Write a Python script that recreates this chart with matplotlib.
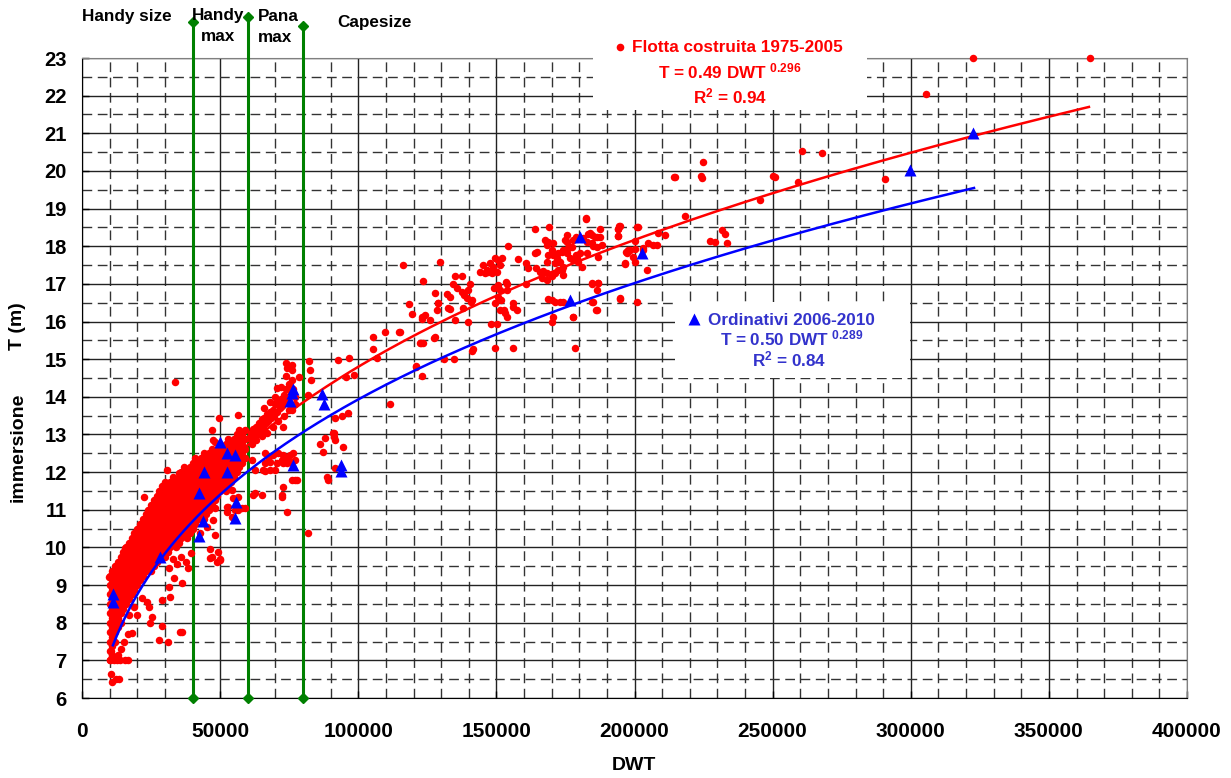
import matplotlib.pyplot as plt
import numpy as np
from matplotlib.patches import Rectangle

plt.rcParams["font.family"] = ["Liberation Sans", "DejaVu Sans"]
plt.rcParams["font.weight"] = "bold"
plt.rcParams["mathtext.fontset"] = "custom"
plt.rcParams["mathtext.rm"] = "Liberation Sans:bold"
plt.rcParams["mathtext.it"] = "Liberation Sans:bold"
plt.rcParams["mathtext.bf"] = "Liberation Sans:bold"

# ---- fleet built 1975-2005 (DWT in thousands, draught T in m) ----
# dense core of the small bulkers: one entry per DWT column
core_columns = [
    (10.0, [7.0, 7.25, 7.5, 7.75, 8.0, 8.25, 8.5, 8.75, 9.0, 9.25]),
    (11.0, [7.125, 7.375, 7.625, 7.875, 8.125, 8.375, 8.625, 8.875, 9.125, 9.375]),
    (12.0, [7.5, 7.75, 8.0, 8.25, 8.5, 8.75, 9.0, 9.25, 9.5]),
    (13.0, [7.875, 8.125, 8.375, 8.625, 8.875, 9.125, 9.375, 9.625]),
    (14.0, [8.0, 8.25, 8.5, 8.75, 9.0, 9.25, 9.5, 9.75]),
    (15.0, [8.375, 8.625, 8.875, 9.125, 9.375, 9.625, 9.875]),
    (16.0, [8.5, 8.75, 9.0, 9.25, 9.5, 9.75, 10.0]),
    (17.0, [8.625, 8.875, 9.125, 9.375, 9.625, 9.875, 10.125]),
    (18.0, [8.75, 9.0, 9.25, 9.5, 9.75, 10.0, 10.25]),
    (19.0, [8.875, 9.125, 9.375, 9.625, 9.875, 10.125, 10.375]),
    (20.0, [9.0, 9.25, 9.5, 9.75, 10.0, 10.25, 10.5]),
    (21.0, [9.125, 9.375, 9.625, 9.875, 10.125, 10.375, 10.625]),
    (22.0, [9.25, 9.5, 9.75, 10.0, 10.25, 10.5, 10.75]),
    (23.0, [9.375, 9.625, 9.875, 10.125, 10.375, 10.625, 10.875]),
    (24.0, [9.5, 9.75, 10.0, 10.25, 10.5, 10.75, 11.0]),
    (25.0, [9.375, 9.625, 9.875, 10.125, 10.375, 10.625, 10.875, 11.125]),
    (26.0, [9.5, 9.75, 10.0, 10.25, 10.5, 10.75, 11.0, 11.25]),
    (27.0, [9.625, 9.875, 10.125, 10.375, 10.625, 10.875, 11.125, 11.375]),
    (28.0, [9.75, 10.0, 10.25, 10.5, 10.75, 11.0, 11.25, 11.5]),
    (29.0, [9.875, 10.125, 10.375, 10.625, 10.875, 11.125, 11.375, 11.625]),
    (30.0, [9.75, 10.0, 10.25, 10.5, 10.75, 11.0, 11.25, 11.5, 11.75]),
    (31.0, [9.875, 10.125, 10.375, 10.625, 10.875, 11.125, 11.375, 11.625]),
    (32.0, [10.0, 10.25, 10.5, 10.75, 11.0, 11.25, 11.5, 11.75]),
    (33.0, [10.125, 10.375, 10.625, 10.875, 11.125, 11.375, 11.625, 11.875]),
    (34.0, [10.0, 10.25, 10.5, 10.75, 11.0, 11.25, 11.5, 11.75]),
    (35.0, [10.125, 10.375, 10.625, 10.875, 11.125, 11.375, 11.625, 11.875]),
    (36.0, [10.25, 10.5, 10.75, 11.0, 11.25, 11.5, 11.75, 12.0]),
    (37.0, [10.375, 10.625, 10.875, 11.125, 11.375, 11.625, 11.875, 12.125]),
    (38.0, [10.25, 10.5, 10.75, 11.0, 11.25, 11.5, 11.75, 12.0]),
    (39.0, [10.375, 10.625, 10.875, 11.125, 11.375, 11.625, 11.875, 12.125]),
    (40.0, [10.5, 10.75, 11.0, 11.25, 11.5, 11.75, 12.0, 12.25]),
    (41.0, [10.625, 10.875, 11.125, 11.375, 11.625, 11.875, 12.125, 12.375]),
    (42.0, [10.75, 11.0, 11.25, 11.5, 11.75, 12.0, 12.25]),
    (43.0, [10.875, 11.125, 11.375, 11.625, 11.875, 12.125, 12.375]),
    (44.0, [10.75, 11.0, 11.25, 11.5, 11.75, 12.0, 12.25, 12.5]),
    (45.0, [10.875, 11.125, 11.375, 11.625, 11.875, 12.125, 12.375]),
    (46.0, [11.0, 11.25, 11.5, 11.75, 12.0, 12.25, 12.5]),
    (47.0, [11.125, 11.375, 11.625, 11.875, 12.125, 12.375, 12.625]),
    (48.0, [11.25, 11.5, 11.75, 12.0, 12.25, 12.5]),
    (49.0, [11.375, 11.625, 11.875, 12.125, 12.375, 12.625]),
    (50.0, [11.5, 11.75, 12.0, 12.25, 12.5]),
    (51.0, [11.625, 11.875, 12.125, 12.375, 12.625]),
    (52.0, [11.5, 11.75, 12.0, 12.25, 12.5, 12.75]),
    (53.0, [11.625, 11.875, 12.125, 12.375, 12.625, 12.875]),
    (54.0, [11.75, 12.0, 12.25, 12.5, 12.75]),
    (55.0, [11.875, 12.125, 12.375, 12.625, 12.875]),
    (56.0, [12.0, 12.25, 12.5, 12.75, 13.0]),
    (57.0, [12.125, 12.375, 12.625, 12.875, 13.125]),
    (58.0, [12.25, 12.5, 12.75, 13.0]),
    (59.0, [12.375, 12.625, 12.875, 13.125]),
]

handy_scatter = [
    (10.5, 6.65), (10.9, 6.43), (12.3, 6.5), (13.5, 6.5), (10.3, 7.0), (11.5, 7.0), (12.5, 7.0),
    (13.8, 7.0), (15.5, 7.0), (16.5, 7.0), (10.5, 7.25), (11.0, 7.15),
    (15.1, 7.5), (18.1, 7.73), (24.7, 7.98), (25.3, 8.16), (24.1, 8.43), (23.5, 8.56), (21.7, 8.65),
    (18.7, 8.43), (19.9, 8.2), (27.8, 7.54), (29.0, 7.9), (31.1, 7.5), (35.4, 7.76), (36.2, 7.76),
    (32.0, 8.67), (29.0, 8.6), (31.4, 8.96), (33.2, 9.18), (36.2, 9.05), (31.4, 9.44), (35.9, 9.75),
    (37.5, 9.6), (38.5, 9.45), (34.5, 9.55), (33.0, 9.7), (39.5, 9.85), (14.0, 7.3), (16.5, 7.7),
    (17.0, 8.2), (13.0, 7.15), (9.9, 9.22), (15.7, 9.98), (18.1, 10.15), (22.3, 11.35), (29.6, 11.66),
    (30.8, 12.06), (35.0, 11.97), (33.7, 14.4),
]

handymax_scatter = [
    (46.3, 9.97), (49.9, 9.66), (48.7, 9.62), (49.3, 9.89), (42.7, 10.37), (45.1, 10.55), (48.1, 10.33),
    (46.9, 9.75), (47.5, 10.73), (46.3, 11.35), (54.2, 11.53), (54.8, 11.3), (55.4, 10.99), (52.4, 10.95),
    (54.2, 10.82), (53.0, 11.08), (56.6, 10.99), (57.8, 11.04), (56.6, 11.35), (59.1, 11.04), (52.5, 11.08),
    (48.1, 11.04), (46.3, 11.08), (46.5, 9.71), (50.1, 9.7), (47.0, 13.12), (47.5, 12.85), (49.5, 13.45),
    (56.6, 13.52), (48.1, 12.81),
]

panamax_fleet = [
    (60.5, 12.9), (61.0, 13.05), (61.5, 12.75), (62.0, 13.15), (62.5, 12.95), (63.0, 13.2), (63.5, 13.0),
    (64.0, 13.3), (64.5, 13.1), (65.0, 13.4), (65.5, 13.2), (66.0, 13.45), (66.5, 13.3), (67.0, 13.55),
    (67.5, 13.35), (68.0, 13.6), (68.5, 13.45), (69.0, 13.65), (69.5, 13.5), (70.0, 13.8), (70.5, 13.6),
    (71.0, 13.85), (71.5, 13.7), (72.0, 13.95), (72.5, 13.75), (73.0, 14.05), (73.5, 13.85), (74.0, 14.2),
    (74.5, 13.95), (75.0, 14.35), (75.5, 14.1), (76.0, 14.45), (76.5, 14.2), (77.0, 14.0), (63.0, 12.85),
    (65.0, 12.95), (67.0, 13.05), (69.0, 13.2), (71.0, 13.35), (73.0, 13.5), (75.0, 13.65), (77.0, 13.8),
    (66.0, 13.7), (68.0, 13.85), (70.0, 14.0), (72.0, 14.25), (74.0, 14.55), (76.0, 14.7), (73.8, 14.9),
    (76.0, 14.85), (70.5, 14.23), (78.5, 14.52), (74.1, 14.76), (72.9, 13.2), (75.9, 13.65), (64.4, 13.3),
    # shallow-draught group
    (66.2, 12.5), (67.4, 12.41), (69.2, 12.45), (71.1, 12.5), (72.9, 12.45), (74.1, 12.41), (75.3, 12.45),
    (76.5, 12.5), (77.1, 12.32), (70.5, 12.23), (72.9, 12.23), (74.1, 12.23), (66.2, 12.23), (68.0, 12.28),
    (72.3, 12.32), (75.3, 12.28), (61.4, 12.32), (62.6, 12.06), (65.6, 12.06), (68.1, 12.06), (66.2, 12.02),
    (69.8, 12.06), (75.9, 11.8), (77.1, 11.78), (77.7, 11.8), (62.6, 11.44), (65.0, 11.39), (72.3, 11.35),
    (72.6, 11.61), (74.1, 10.95), (81.9, 10.37), (72.3, 11.39), (62.0, 11.39),
]

cape_fleet = [
    (82.3, 14.96), (82.5, 14.71), (82.9, 14.45), (81.9, 14.05), (86.2, 12.76), (88.0, 12.9), (91.0, 13.03),
    (91.6, 12.85), (87.4, 12.54), (94.6, 12.68), (88.6, 11.88), (89.2, 11.8), (91.6, 12.1), (91.2, 13.03),
    (91.3, 12.92), (91.6, 13.43), (94.0, 13.49), (96.4, 13.56), (95.6, 14.53), (98.5, 14.58), (92.8, 14.98),
    (96.6, 15.02), (105.2, 15.58), (105.5, 15.28), (106.7, 15.02), (109.7, 15.73), (111.5, 13.81),
    (114.9, 15.71), (115.1, 15.71), (116.1, 17.5), (118.5, 16.46), (119.3, 16.2), (120.8, 14.8),
    (120.9, 14.82), (122.4, 15.42), (122.6, 15.42), (122.9, 16.11), (122.9, 14.54), (123.0, 16.08),
    (123.3, 17.08), (123.6, 15.44), (124.2, 16.17), (126.0, 16.04), (127.5, 15.55), (127.8, 16.75),
    (127.8, 15.58), (128.4, 16.31), (128.8, 16.5), (129.0, 16.48), (129.6, 17.59), (131.2, 15.01),
    (132.0, 16.73), (132.6, 16.35), (133.2, 16.66), (133.2, 16.32), (134.4, 17.0), (134.8, 15.0),
    (135.0, 17.21), (135.0, 16.04), (135.9, 16.88), (137.4, 17.21), (137.4, 16.79), (138.0, 16.35),
    (138.3, 16.7), (139.2, 16.62), (139.8, 16.84), (139.8, 15.99), (140.4, 17.01), (140.8, 16.53),
    (141.0, 16.57), (141.0, 15.23), (141.4, 15.26), (144.1, 17.32), (145.3, 17.5), (146.5, 17.37),
    (147.7, 17.55), (148.9, 17.46), (149.5, 17.68), (150.7, 17.63), (151.3, 17.5), (151.9, 17.68),
    (148.3, 17.28), (147.1, 17.32), (150.1, 17.32), (145.9, 17.28), (149.1, 16.88), (150.7, 16.97),
    (151.3, 16.84), (153.7, 17.01), (153.7, 16.84), (153.5, 17.06), (150.7, 16.66), (151.5, 16.57),
    (149.5, 16.48), (151.3, 16.31), (153.1, 16.22), (153.7, 16.13), (152.8, 16.31), (147.9, 15.93),
    (150.1, 15.93), (156.1, 16.48), (157.6, 16.31), (156.1, 16.39), (160.7, 17.01), (155.9, 15.29),
    (149.5, 15.29), (154.1, 18.01), (157.9, 17.65), (160.9, 17.55), (161.6, 17.41), (164.3, 17.41),
    (164.0, 18.47), (164.0, 17.81), (164.8, 17.85), (168.2, 17.59), (168.8, 17.77), (165.8, 17.32),
    (167.0, 17.35), (168.2, 17.1), (170.0, 17.21), (169.2, 18.52), (167.6, 18.16), (168.8, 18.12),
    (168.2, 18.03), (170.6, 18.08), (170.0, 17.9), (170.6, 17.77), (172.4, 17.81), (171.8, 17.68),
    (173.0, 17.59), (171.2, 17.55), (174.2, 17.9), (175.5, 18.12), (176.1, 17.94), (177.3, 17.99),
    (176.7, 17.68), (177.9, 17.63), (179.1, 17.68), (173.6, 17.37), (174.2, 17.24), (172.4, 17.37),
    (171.2, 17.28), (168.2, 17.28), (166.4, 17.15), (168.8, 16.59), (170.0, 16.57), (171.2, 16.53),
    (173.0, 16.53), (174.2, 16.53), (170.6, 16.13), (170.0, 16.0), (177.9, 16.11), (178.5, 15.31),
    (182.4, 18.74), (183.9, 18.34), (182.7, 18.12), (184.5, 18.08), (185.7, 18.25), (187.5, 18.47),
    (187.5, 18.25), (188.1, 18.03), (186.3, 17.99), (182.7, 17.81), (180.3, 17.81), (179.7, 17.59),
    (180.9, 17.46), (186.9, 17.72), (184.5, 17.03), (186.9, 17.03), (186.3, 16.85), (184.5, 16.53),
    (186.3, 16.31), (194.8, 18.54), (194.2, 18.45), (194.2, 18.27), (198.4, 17.9), (197.2, 17.81),
    (196.6, 17.55), (200.8, 16.53), (194.8, 16.62), (201.2, 18.52), (205.0, 18.09), (203.2, 17.9),
    (199.6, 17.72), (204.4, 17.37), (182.4, 18.72), (175.4, 18.3), (174.8, 18.17), (173.6, 17.86),
    (174.2, 17.46), (176.6, 17.99), (177.8, 18.17), (179.0, 18.25), (181.4, 18.21), (183.3, 18.32),
    (184.5, 18.3), (186.3, 18.25), (185.1, 18.0), (178.4, 17.63), (179.0, 17.77), (175.4, 17.81),
    (194.1, 18.47), (194.5, 18.54), (194.1, 18.27), (201.0, 18.5), (200.2, 18.15), (197.1, 17.85),
    (197.7, 17.9), (200.2, 17.92), (203.2, 17.94), (206.8, 18.03), (208.0, 18.03), (208.6, 18.34),
    (211.0, 18.3), (196.5, 17.53), (200.2, 17.57), (184.5, 17.01), (186.9, 17.03), (184.8, 16.51),
    (186.0, 16.3), (194.7, 16.6), (177.8, 16.11), (214.6, 19.85), (214.3, 19.83), (223.9, 19.86),
    (224.5, 19.8), (224.9, 20.23), (218.3, 18.8), (227.3, 18.15), (229.1, 18.12), (231.5, 18.43),
    (232.7, 18.32), (233.4, 18.09), (250.2, 19.86), (250.9, 19.85), (245.4, 19.23), (259.3, 19.71),
    (260.5, 20.54), (267.7, 20.47), (290.7, 19.78), (305.5, 22.04), (322.5, 23.0), (364.9, 23.0),
]

# ---- orders 2006-2010 ----
orders = [
    (11.2, 8.76), (11.2, 8.55), (28.2, 9.75), (42.5, 10.3), (43.9, 10.7), (55.4, 10.78), (55.7, 11.2),
    (42.5, 11.45), (44.3, 12.0), (52.4, 12.0), (52.6, 12.52), (55.4, 12.45), (50.0, 12.8), (76.3, 12.2),
    (93.8, 12.19), (93.8, 12.02), (75.3, 13.9), (75.9, 14.1), (76.5, 14.2), (86.8, 14.08), (87.6, 13.82),
    (180.3, 18.24), (176.6, 16.57), (202.7, 17.82), (299.7, 20.02), (322.5, 21.0),
]

# trend lines T = a * DWT ** b, drawn between the given DWT limits (thousands)
fleet_fit = (0.49, 0.296, 10.0, 364.5)
orders_fit = (0.50, 0.289, 11.2, 322.9)

# vessel size class limits (DWT)
class_limits = [40000, 60000, 80000]
class_tops = [23.95, 24.08, 23.86]

core = [(x, t) for x, ts in core_columns for t in ts]
fleet = np.array(core + handy_scatter + handymax_scatter + panamax_fleet + cape_fleet)
fleet_dwt = fleet[:, 0] * 1000
fleet_t = fleet[:, 1]
orders = np.array(orders)
orders_dwt = orders[:, 0] * 1000
orders_t = orders[:, 1]

fig = plt.figure(figsize=(12.31, 7.78), dpi=100)
ax = fig.add_axes([82 / 1231, 80 / 778, 1105 / 1231, 640 / 778])

ax.set_xlim(0, 400000)
ax.set_ylim(6, 23)
ax.set_xticks(np.arange(0, 400001, 50000))
ax.set_xticks(np.arange(0, 400001, 10000), minor=True)
ax.set_yticks(np.arange(6, 24, 1))
ax.set_yticks(np.arange(6.5, 23, 1), minor=True)
ax.grid(which="major", color="#222222", lw=1.0, ls="-", zorder=0)
ax.grid(which="minor", color="#333333", lw=1.0, ls=(0, (7, 4)), zorder=0)
ax.set_axisbelow(True)
ax.tick_params(which="major", direction="in", length=5, width=1)
ax.tick_params(which="minor", length=0)
ax.tick_params(axis="x", labelsize=15, pad=17)
ax.tick_params(axis="y", labelsize=14.5, pad=11)
for lab in ax.get_xticklabels() + ax.get_yticklabels():
    lab.set_fontweight("bold")
for side in ["left", "bottom"]:
    ax.spines[side].set_color("#000000")
for side in ["top", "right"]:
    ax.spines[side].set_color("#808080")

# size class separators
for x, top in zip(class_limits, class_tops):
    ax.plot([x, x], [6, top], color="#008000", lw=2.2, marker="D", ms=5,
            clip_on=False, zorder=3)

ax.plot(fleet_dwt, fleet_t, "o", color="#FF0000", ms=5.4, mec="none", clip_on=False, zorder=4)

a, b, x0, x1 = fleet_fit
xs = np.linspace(x0 * 1000, x1 * 1000, 400)
ax.plot(xs, a * xs ** b, color="#FF0000", lw=1.8, zorder=5)
a, b, x0, x1 = orders_fit
xs = np.linspace(x0 * 1000, x1 * 1000, 400)
ax.plot(xs, a * xs ** b, color="#0000FF", lw=1.8, zorder=5)

ax.plot(orders_dwt, orders_t, "^", color="#0000FF", ms=9, mec="none", zorder=6)

# legend boxes
ax.add_patch(Rectangle((185000, 21.62), 99000, 1.92, facecolor="white", edgecolor="none",
                       clip_on=False, zorder=7))
ax.add_patch(Rectangle((214700, 14.5), 85000, 2.02, facecolor="white", edgecolor="none",
                       clip_on=False, zorder=7))

red = "#FF0000"
ax.plot([194800], [23.3], "o", color=red, ms=5.5, mec="none", clip_on=False, zorder=8)
ax.text(199000, 23.29, "Flotta costruita 1975-2005", color=red, fontsize=12.3,
        fontweight="bold", ha="left", va="center", zorder=8)
ax.text(234600, 22.63, r"T = 0.49 DWT $^{0.296}$", color=red, fontsize=12.3,
        fontweight="bold", ha="center", va="center", zorder=8)
ax.text(234600, 21.99, r"R$^{2}$ = 0.94", color=red, fontsize=12.3,
        fontweight="bold", ha="center", va="center", zorder=8)

blue_txt = "#3333CC"
ax.plot([221500], [16.08], "^", color="#0000FF", ms=9, mec="none", zorder=8)
ax.text(226600, 16.04, "Ordinativi 2006-2010", color=blue_txt, fontsize=12.3,
        fontweight="bold", ha="left", va="center", zorder=8)
ax.text(257000, 15.54, r"T = 0.50 DWT $^{0.289}$", color=blue_txt, fontsize=12.3,
        fontweight="bold", ha="center", va="center", zorder=8)
ax.text(256000, 14.98, r"R$^{2}$ = 0.84", color=blue_txt, fontsize=12.3,
        fontweight="bold", ha="center", va="center", zorder=8)

# size class names above the plot
fig.text(82 / 1231, 1 - 17 / 778, "Handy size", fontsize=12.3, fontweight="bold",
         ha="left", va="center")
fig.text(218 / 1231, 1 - 26 / 778, "Handy\nmax", fontsize=12.3, fontweight="bold",
         ha="center", va="center", linespacing=1.45)
fig.text(258 / 1231, 1 - 27 / 778, "Pana\nmax", fontsize=12.3, fontweight="bold",
         ha="left", va="center", linespacing=1.45)
fig.text(337 / 1231, 1 - 22 / 778, "Capesize", fontsize=12.3, fontweight="bold",
         ha="left", va="center")

fig.text(634 / 1231, 1 - 765 / 778, "DWT", fontsize=14, fontweight="bold",
         ha="center", va="center")
fig.text(18 / 1231, 1 - 447 / 778, "immersione", rotation=90, fontsize=14,
         fontweight="bold", ha="center", va="center")
fig.text(18 / 1231, 1 - 326 / 778, "T (m)", rotation=90, fontsize=14,
         fontweight="bold", ha="center", va="center")

fig.savefig("out.png", dpi=100)
